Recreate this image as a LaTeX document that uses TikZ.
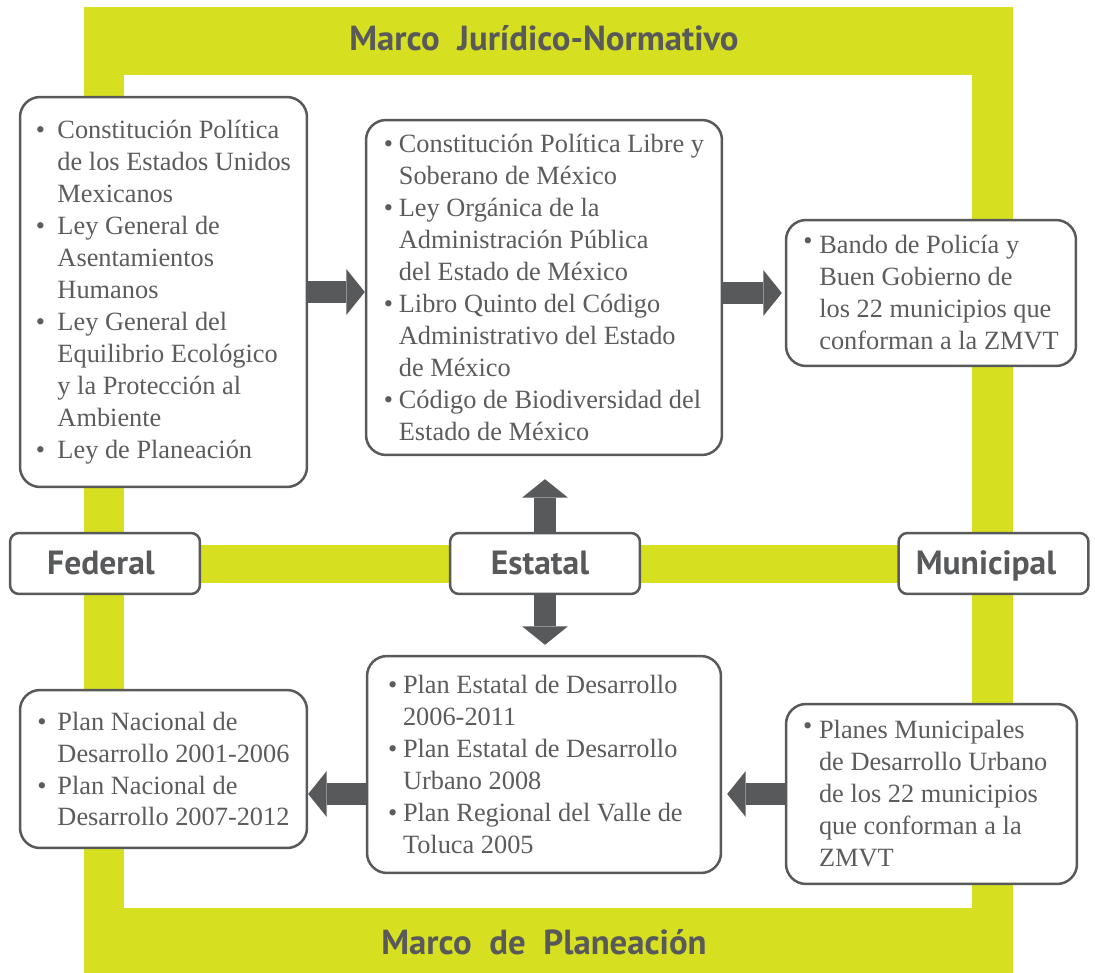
\documentclass[tikz,border=0pt]{standalone}
\usepackage{fontspec}
\usepackage{tikz}
\usepackage{xcolor}
\usetikzlibrary{arrows.meta}
\setmainfont{Liberation Serif}
\newfontfamily\labelfont{PT Sans}
\definecolor{frameyellow}{HTML}{D7DF21}
\definecolor{boxgray}{HTML}{58595B}
\definecolor{textgray}{HTML}{5C5C5C}
\newcommand{\bitem}[1][0.3cm]{\makebox[#1][l]{\textbullet}}
\newcommand{\bitemup}[1][0.32cm]{\makebox[#1][l]{\raisebox{0.35ex}{\textbullet}}}
\newcommand{\bcont}[1][0.3cm]{\hspace*{#1}}
\tikzset{
    plan-box/.style = {draw=boxgray, fill=white, line width=0.05cm, rectangle, rounded corners=0.4cm, align=flush left, text=textgray, font=\fontsize{15}{18.2}\selectfont},
    level-box/.style = {draw=boxgray, fill=white, line width=0.05cm, rectangle, rounded corners=0.18cm, minimum width=3.8cm, minimum height=1.22cm, text height=0.48cm, text depth=0.06cm, text=boxgray, font=\labelfont\bfseries\fontsize{19.1}{21}\selectfont},
    frame-title/.style = {anchor=base, text=boxgray, font=\labelfont\bfseries\fontsize{19.8}{22}\selectfont},
    level-arrow/.style = {draw=boxgray, line width=0.44cm, -{Triangle[length=0.37cm, width=0.92cm, line width=0pt]}},
}

\begin{document}
\begin{tikzpicture}[x=0.02cm, y=-0.02cm]
\useasboundingbox (0,0) rectangle (1095,973);
\fill[frameyellow] (84,7) rectangle (1013,973);
\fill[white] (124,75) rectangle (972,908);
\fill[frameyellow] (124,545) rectangle (972,583);

\node[frame-title] (top-title) at (544,51) {Marco\ \ Jurídico-Normativo};
\node[frame-title] (bottom-title) at (544,954) {Marco\ \ de\ \ Planeación};

\node[level-box] (fed) at (105,563.5) {Federal\hspace*{0.16cm}};
\node[level-box] (est) at (545,563.5) {Estatal\hspace*{0.2cm}};
\node[level-box] (mun) at (993.5,563.5) {Municipal\hspace*{0.3cm}};

\node[plan-box, minimum width=5.74cm, minimum height=7.8cm] (fedtop) at (163.5,292) {\bitem[0.43cm]Constitución Política\\
    \bcont[0.43cm]de los Estados Unidos\\
    \bcont[0.43cm]Mexicanos\\
    \bitem[0.43cm]Ley General de\\
    \bcont[0.43cm]Asentamientos\\
    \bcont[0.43cm]Humanos\\
    \bitem[0.43cm]Ley General del\\
    \bcont[0.43cm]Equilibrio Ecológico\\
    \bcont[0.43cm]y la Protección al\\
    \bcont[0.43cm]Ambiente\\
    \bitem[0.43cm]Ley de Planeación};
\node[plan-box, minimum width=7.12cm, minimum height=6.7cm] (esttop) at (544,287.5) {\bitem Constitución Política Libre y\\
    \bcont Soberano de México\\
    \bitem Ley Orgánica de la\\
    \bcont Administración Pública\\
    \bcont del Estado de México\\
    \bitem Libro Quinto del Código\\
    \bcont Administrativo del Estado\\
    \bcont de México\\
    \bitem Código de Biodiversidad del\\
    \bcont Estado de México};
\node[plan-box, minimum width=5.8cm, minimum height=2.92cm] (muntop) at (931,293) {\bitemup Bando de Policía y\\
    \bcont[0.32cm]Buen Gobierno de\\
    \bcont[0.32cm]los 22 municipios que\\
    \bcont[0.32cm]conforman a la ZMVT};

\node[plan-box, minimum width=5.74cm, minimum height=3.16cm] (fedbot) at (163.5,769) {\bitem[0.4cm]Plan Nacional de\\
    \bcont[0.4cm]Desarrollo 2001-2006\\
    \bitem[0.4cm]Plan Nacional de\\
    \bcont[0.4cm]Desarrollo 2007-2012};
\node[plan-box, text width=6.24cm, inner xsep=0.42cm, minimum height=4.34cm] (estbot) at (544,764.5) {\bitem Plan Estatal de Desarrollo\\
    \bcont 2006-2011\\
    \bitem Plan Estatal de Desarrollo\\
    \bcont Urbano 2008\\
    \bitem Plan Regional del Valle de\\
    \bcont Toluca 2005};
\node[plan-box, text width=5.14cm, inner xsep=0.34cm, minimum height=3.6cm] (munbot) at (931.5,794) {\bitemup Planes Municipales\\
    \bcont[0.32cm]de Desarrollo Urbano\\
    \bcont[0.32cm]de los 22 municipios\\
    \bcont[0.32cm]que conforman a la\\
    \bcont[0.32cm]ZMVT};

\draw[level-arrow] (fedtop.east) -- (fedtop.east -| esttop.west);
\draw[level-arrow, shorten >=0.06cm] (esttop.east |- muntop.west) -- (muntop.west);
\draw[level-arrow, shorten >=0.46cm] (est.north) -- (est.north |- esttop.south);
\draw[level-arrow, shorten >=0.2cm] (est.south) -- (est.south |- estbot.north);
\draw[level-arrow, shorten >=0.1cm] (munbot.west) -- (munbot.west -| estbot.east);
\draw[level-arrow] (estbot.west |- munbot.west) -- (munbot.west -| fedbot.east);
\end{tikzpicture}
\end{document}
